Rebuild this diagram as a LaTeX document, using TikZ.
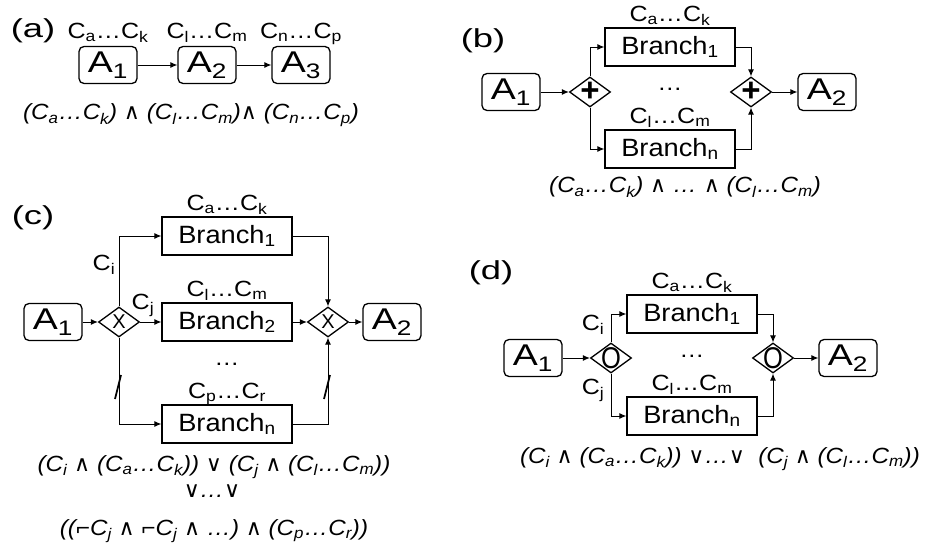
\documentclass[tikz,border=0pt]{standalone}
\usepackage{fontspec}
\setmainfont{Liberation Sans}
\newfontfamily\tagfont{Liberation Sans}[FakeStretch=1.4]
\newfontfamily\actfont{Liberation Sans}[FakeStretch=1.25]
\newfontfamily\brfont{Liberation Sans}[FakeStretch=1.09]
\newfontfamily\condfont{Liberation Sans}[FakeStretch=1.14]
\newfontfamily\formfont{Liberation Sans}[FakeStretch=1.1]
\newfontfamily\symfont{DejaVu Sans}
\usepackage{graphicx}
\usetikzlibrary{shapes.geometric,arrows.meta}

\newcommand\fsz[1]{\fontsize{#1}{#1}\selectfont}
\newcommand\sbs[1]{\textsubscript{#1}}
\newcommand\wg{{\upshape\symfont ∧}}
\newcommand\vl{{\upshape\symfont ∨}}
\newcommand\nt{\reflectbox{¬}}

\begin{document}
\begin{tikzpicture}[x=1pt, y=-1pt,
    act/.style={draw, rounded corners=5pt, line width=1.3pt, minimum width=58pt,
      minimum height=37pt, inner sep=0pt, font=\actfont\fsz{30}},
    branch/.style={draw, line width=1.3pt, minimum width=130pt, minimum height=38pt,
      inner sep=0pt, font=\brfont\fsz{25}},
    gate/.style={draw, diamond, line width=1.3pt, minimum width=41pt,
      minimum height=30pt, inner sep=0pt},
    cond/.style={font=\condfont\fsz{22}, inner sep=0pt},
    panel/.style={font=\tagfont\fsz{26}, inner sep=0pt},
    formula/.style={font=\formfont\fsz{22}\itshape, inner sep=0pt, anchor=base},
    flow/.style={line width=0.9pt, -{Latex[length=7pt,width=6pt]}},
    cut/.style={line width=1.8pt}]
  \useasboundingbox (0,0) rectangle (931,548);

  % (a) sequence
  \node[panel] (taga) at (33,31) {(a)};
  \node[act] (aa1) at (108,65) {A\sbs{1}};
  \node[act] (aa2) at (207,65) {A\sbs{2}};
  \node[act] (aa3) at (301,65) {A\sbs{3}};
  \node[cond, anchor=base] at ([yshift=7pt]aa1.north) {C\sbs{a}…C\sbs{k}};
  \node[cond, anchor=base] at ([yshift=7pt]aa2.north) {C\sbs{l}…C\sbs{m}};
  \node[cond, anchor=base] at ([yshift=7pt]aa3.north) {C\sbs{n}…C\sbs{p}};
  \draw[flow] (aa1) -- (aa2);
  \draw[flow] (aa2) -- (aa3);
  \node[formula] at (191,120) {(C\sbs{a}…C\sbs{k}) \wg{} (C\sbs{l}…C\sbs{m})\wg{} (C\sbs{n}…C\sbs{p})};

  % (b) parallel
  \node[panel] (tagb) at (483,41) {(b)};
  \node[act] (ba1) at (511,92) {A\sbs{1}};
  \node[gate, label={[font=\fsz{33}\bfseries]center:+}] (bsplit) at (590,92) {};
  \node[branch] (bbr1) at (670,47) {Branch\sbs{1}};
  \node[branch] (bbrn) at (670,149) {Branch\sbs{n}};
  \node[gate, label={[font=\fsz{33}\bfseries]center:+}] (bjoin) at (751,92) {};
  \node[act] (ba2) at (827,92) {A\sbs{2}};
  \node[cond, anchor=base] at ([yshift=6pt]bbr1.north) {C\sbs{a}…C\sbs{k}};
  \node[cond, anchor=base] at ([yshift=6pt]bbrn.north) {C\sbs{l}…C\sbs{m}};
  \node[cond, anchor=base] (bdots) at (670,91) {…};
  \draw[flow] (ba1) -- (bsplit);
  \draw[flow] (bsplit.north) |- (bbr1);
  \draw[flow] (bsplit.south) |- (bbrn);
  \draw[flow] (bbr1) -| (bjoin);
  \draw[flow] (bbrn) -| (bjoin);
  \draw[flow] (bjoin) -- (ba2);
  \node[formula] at (685,193) {(C\sbs{a}…C\sbs{k}) \wg{} … \wg{} (C\sbs{l}…C\sbs{m})};

  % (c) exclusive choice
  \node[panel] (tagc) at (33,218) {(c)};
  \node[act] (ca1) at (53,322) {A\sbs{1}};
  \node[gate, label={[font=\fsz{20}]center:X}] (csplit) at (119,322) {};
  \node[branch] (cbr1) at (227,236) {Branch\sbs{1}};
  \node[branch] (cbr2) at (227,322) {Branch\sbs{2}};
  \node[branch] (cbrn) at (227,424) {Branch\sbs{n}};
  \node[gate, label={[font=\fsz{20}]center:X}] (cjoin) at (328,322) {};
  \node[act] (ca2) at (392,322) {A\sbs{2}};
  \node[cond, anchor=base] at ([yshift=6pt]cbr1.north) {C\sbs{a}…C\sbs{k}};
  \node[cond, anchor=base] at ([yshift=6pt]cbr2.north) {C\sbs{l}…C\sbs{m}};
  \node[cond, anchor=base] at ([yshift=6pt]cbrn.north) {C\sbs{p}…C\sbs{r}};
  \node[cond, anchor=base] (cdots) at (227,365) {…};
  \node[cond] (cci) at (104,265) {C\sbs{i}};
  \node[cond] (ccj) at (143,305) {C\sbs{j}};
  \draw[flow] (ca1) -- (csplit);
  \draw[flow] (csplit.north) |- (cbr1);
  \draw[flow] (csplit) -- (cbr2);
  \draw[flow] (csplit.south) |- (cbrn);
  \draw[flow] (cbr1) -| (cjoin);
  \draw[flow] (cbr2) -- (cjoin);
  \draw[flow] (cbrn) -| (cjoin);
  \draw[flow] (cjoin) -- (ca2);
  \coordinate (cs1) at (118,387);
  \coordinate (cs2) at (327,387);
  \draw[cut] ([shift={(-3,12)}]cs1) -- ([shift={(3,-12)}]cs1);
  \draw[cut] ([shift={(-3,12)}]cs2) -- ([shift={(3,-12)}]cs2);
  \node[formula] at (214,471) {(C\sbs{i} \wg{} (C\sbs{a}…C\sbs{k})) \vl{} (C\sbs{j} \wg{} (C\sbs{l}…C\sbs{m}))};
  \node[formula] at (212,497) {\vl…\vl};
  \node[formula] at (214,535) {((\nt C\sbs{j} \wg{} \nt C\sbs{j} \wg{} …) \wg{} (C\sbs{p}…C\sbs{r}))};

  % (d) inclusive choice
  \node[panel] (tagd) at (491,273) {(d)};
  \node[act] (da1) at (533,358) {A\sbs{1}};
  \node[gate, label={[font=\fsz{30}]center:\scalebox{0.85}[1]{O}}] (dsplit) at (611,358) {};
  \node[branch] (dbr1) at (692,314) {Branch\sbs{1}};
  \node[branch] (dbrn) at (692,416) {Branch\sbs{n}};
  \node[gate, label={[font=\fsz{30}]center:\scalebox{0.85}[1]{O}}] (djoin) at (773,358) {};
  \node[act] (da2) at (848,358) {A\sbs{2}};
  \node[cond, anchor=base] at ([yshift=6pt]dbr1.north) {C\sbs{a}…C\sbs{k}};
  \node[cond, anchor=base] at ([yshift=6pt]dbrn.north) {C\sbs{l}…C\sbs{m}};
  \node[cond, anchor=base] (ddots) at (692,357) {…};
  \node[cond] (dci) at (593,325) {C\sbs{i}};
  \node[cond] (dcj) at (593,390) {C\sbs{j}};
  \draw[flow] (da1) -- (dsplit);
  \draw[flow] (dsplit.north) |- (dbr1);
  \draw[flow] (dsplit.south) |- (dbrn);
  \draw[flow] (dbr1) -| (djoin);
  \draw[flow] (dbrn) -| (djoin);
  \draw[flow] (djoin) -- (da2);
  \node[formula] at (720,463) {(C\sbs{i} \wg{} (C\sbs{a}…C\sbs{k})) \vl…\vl{}\ \ (C\sbs{j} \wg{} (C\sbs{l}…C\sbs{m}))};
\end{tikzpicture}
\end{document}
